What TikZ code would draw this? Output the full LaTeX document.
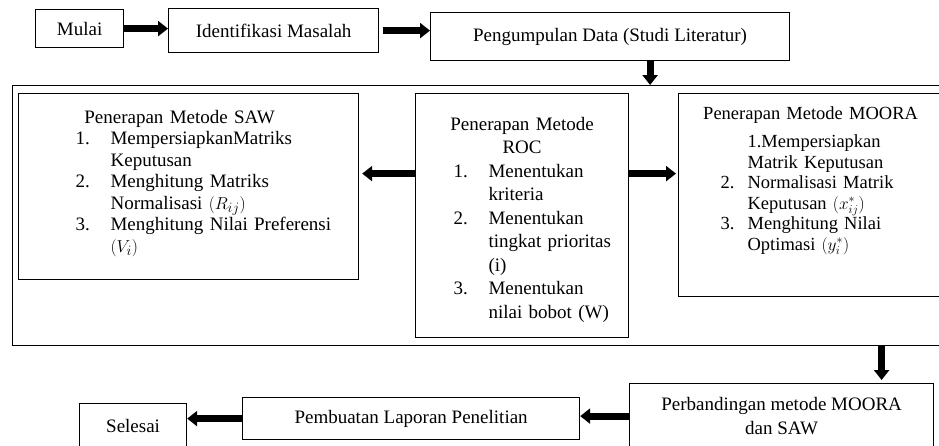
\documentclass[tikz,border=0pt]{standalone}
\usepackage{fontspec}
\setmainfont{Liberation Serif}
\usepackage{tikz}
\usetikzlibrary{positioning}
\usetikzlibrary{arrows.meta}
\newcommand\judul[2]{\makebox[#1]{#2}}
\newcommand\butir[3]{\hspace*{#1}\makebox[#2][l]{#3}}

\begin{document}
\begin{tikzpicture}[x=1pt, y=-1pt, font=\fontsize{19}{23.5}\selectfont,
    kotak/.style={draw, line width=1.2pt, inner sep=0pt, align=center},
    isi/.style={inner sep=0pt, align=left},
    panah/.style={line width=7pt, -{Triangle[length=10pt, width=15pt]}}]
    \useasboundingbox (0,0) rectangle (939,445);
    \clip (0,0) rectangle (939,445);
    % baris atas
    \node[kotak, anchor=north west, minimum width=88pt, minimum height=38pt] (mulai) at (35,9) {Mulai};
    \node[kotak, anchor=north west, minimum width=210pt, minimum height=44pt] (identifikasi) at (168,8) {Identifikasi Masalah};
    \node[kotak, anchor=north west, minimum width=359pt, minimum height=48pt] (pengumpulan) at (430,12) {Pengumpulan Data (Studi Literatur)};
    % kotak besar
    \node[kotak, anchor=north west, minimum width=945pt, minimum height=260pt] (utama) at (12,85) {};
    \node[kotak, anchor=north west, minimum width=340pt, minimum height=186pt] (saw) at (18,93) {};
    \node[kotak, anchor=north west, minimum width=213pt, minimum height=244pt] (roc) at (415,93) {};
    \node[kotak, anchor=north west, minimum width=280pt, minimum height=203pt] (moora) at (678,93) {};
    \node[isi, text width=340pt, anchor=north, font=\fontsize{19}{21.5}\selectfont, below=17pt of saw.north] (saw-isi) {%
        \judul{322pt}{Penerapan Metode SAW}\\
        \butir{57pt}{35pt}{1.}MempersiapkanMatriks\\
        \hspace*{92pt}Keputusan\\
        \butir{57pt}{35pt}{2.}Menghitung Matriks\\
        \hspace*{92pt}Normalisasi $(R_{ij})$\\
        \butir{57pt}{35pt}{3.}Menghitung Nilai Preferensi\\
        \hspace*{92pt}$(V_i)$};
    \node[isi, text width=213pt, anchor=north, below=24pt of roc.north] (roc-isi) {%
        \judul{213pt}{Penerapan Metode}\\
        \judul{213pt}{ROC}\\
        \butir{38pt}{35pt}{1.}Menentukan\\
        \hspace*{73pt}kriteria\\
        \butir{38pt}{35pt}{2.}Menentukan\\
        \hspace*{73pt}tingkat prioritas\\
        \hspace*{73pt}(i)\\
        \butir{38pt}{35pt}{3.}Menentukan\\
        \hspace*{73pt}nilai bobot (W)};
    \node[isi, text width=280pt, anchor=north, font=\fontsize{18.5}{20.5}\selectfont, below=13pt of moora.north] (moora-isi) {%
        \judul{264pt}{Penerapan Metode MOORA}\\[8pt]
        \hspace*{69pt}1.Mempersiapkan\\
        \hspace*{69pt}Matrik Keputusan\\
        \butir{42pt}{27pt}{2.}Normalisasi Matrik\\
        \hspace*{69pt}Keputusan $(x_{ij}^{*})$\\
        \butir{42pt}{27pt}{3.}Menghitung Nilai\\
        \hspace*{69pt}Optimasi $(y_i^{*})$};
    % baris bawah
    \node[kotak, anchor=north west, minimum width=304pt, minimum height=65pt] (perbandingan) at (629,383) {Perbandingan metode MOORA\\dan SAW};
    \node[kotak, anchor=north west, minimum width=337pt, minimum height=42pt] (laporan) at (242,397) {Pembuatan Laporan Penelitian};
    \node[kotak, anchor=north west, minimum width=107pt, minimum height=44pt] (selesai) at (79,403) {Selesai};
    % panah
    \draw[panah] (mulai.east) -- (mulai.east -| identifikasi.west);
    \draw[panah, shorten <=4pt] (identifikasi.east) -- (identifikasi.east -| pengumpulan.west);
    \draw[panah] ([xshift=40pt]pengumpulan.south) -- ([xshift=40pt]pengumpulan.south |- utama.north);
    \draw[panah, shorten >=3pt] ([yshift=42pt]roc.west) -- ([yshift=42pt]roc.west -| saw.east);
    \draw[panah, shorten >=2pt] ([yshift=42pt]roc.east) -- ([yshift=42pt]roc.east -| moora.west);
    \draw[panah, shorten >=3pt] ([xshift=100pt]perbandingan.north |- utama.south) -- ([xshift=100pt]perbandingan.north);
    \draw[panah] (perbandingan.west) -- (perbandingan.west -| laporan.east);
    \draw[panah] (laporan.west) -- (laporan.west -| selesai.east);
\end{tikzpicture}
\end{document}
